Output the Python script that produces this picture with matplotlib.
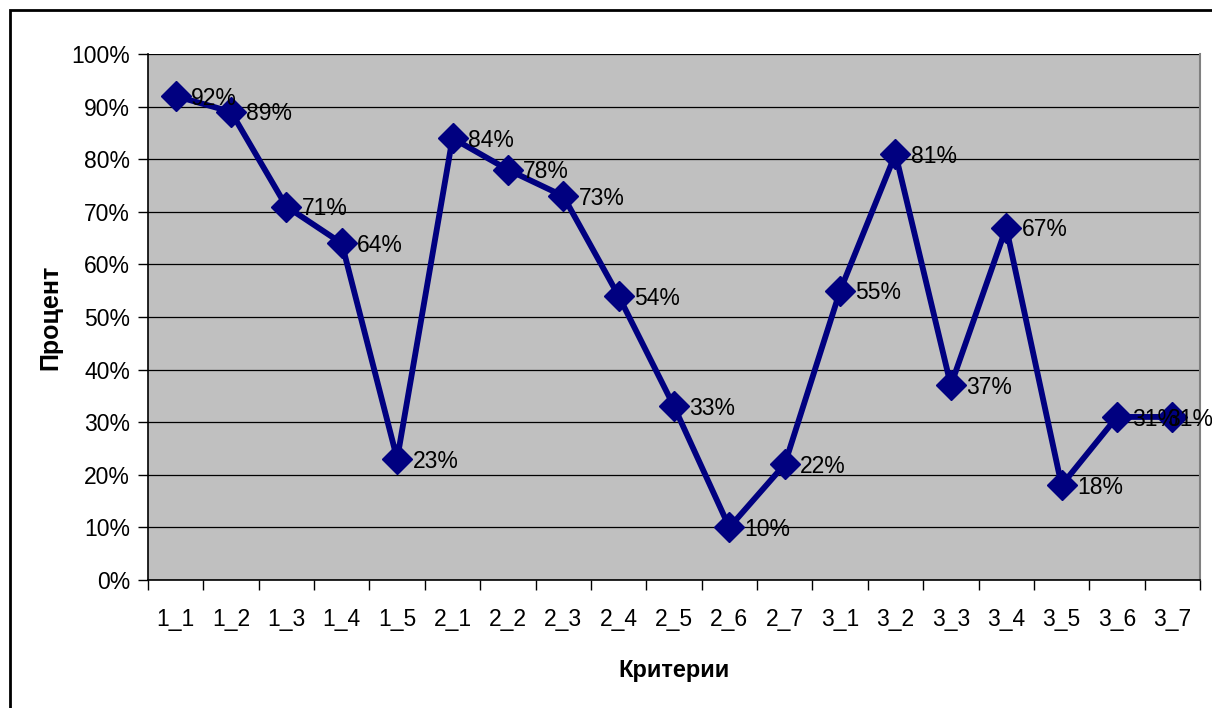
import matplotlib.pyplot as plt
from matplotlib.patches import Rectangle

plt.rcParams['font.family'] = ['Liberation Sans', 'DejaVu Sans']

criteria = ["1_1", "1_2", "1_3", "1_4", "1_5",
            "2_1", "2_2", "2_3", "2_4", "2_5", "2_6", "2_7",
            "3_1", "3_2", "3_3", "3_4", "3_5", "3_6", "3_7"]
percent = [92, 89, 71, 64, 23,
           84, 78, 73, 54, 33, 10, 22,
           55, 81, 37, 67, 18, 31, 31]

fig = plt.figure(figsize=(12.12, 7.08), dpi=100)
ax = fig.add_axes([148 / 1212, 1 - 580 / 708, 1052 / 1212, 526 / 708])
ax.set_facecolor("#c0c0c0")

x = list(range(len(criteria)))
ax.plot(x, percent, color="#000080", lw=4.2, marker="D", ms=15,
        markeredgecolor="#000080", markerfacecolor="#000080", zorder=3)
for xi, v in zip(x, percent):
    # the last label is pulled back so it stays inside the chart frame
    dx = 11 if xi < len(x) - 1 else -4
    ax.annotate(f"{v}%", (xi, v), xytext=(dx, -1.5), textcoords="offset points",
                ha="left", va="center", fontsize=16.5, zorder=4,
                annotation_clip=False)

ax.set_xlim(-0.5, len(criteria) - 0.5)
ax.set_ylim(0, 100)
ax.set_yticks(range(0, 101, 10))
ax.set_yticklabels([f"{t}%" for t in range(0, 101, 10)], fontsize=16.5)
ax.yaxis.grid(True, color="#000000", lw=0.9)
ax.set_axisbelow(True)

# category labels sit between boundary ticks
ax.set_xticks([i - 0.5 for i in range(len(criteria) + 1)])
ax.set_xticklabels([])
ax.set_xticks(x, minor=True)
ax.set_xticklabels(criteria, minor=True, fontsize=16.5)
ax.tick_params(axis="x", which="minor", length=0, pad=20)
ax.tick_params(axis="x", which="major", length=7, width=1)
ax.tick_params(axis="y", length=7, width=1, pad=6)

for side in ("left", "bottom"):
    ax.spines[side].set_color("black")
    ax.spines[side].set_linewidth(1.2)
ax.spines["top"].set_visible(False)
ax.spines["right"].set_color("#808080")
ax.spines["right"].set_linewidth(1.5)

ax.set_xlabel("Критерии", fontsize=17, fontweight="bold", labelpad=20)
ax.set_ylabel("Процент", fontsize=18, fontweight="bold", labelpad=6)

# outer chart frame
fig.patches.append(Rectangle((10 / 1212, -0.01), 1.1, 1 - 10 / 708 + 0.01,
                             transform=fig.transFigure, fill=False,
                             edgecolor="black", lw=2))

fig.savefig("out.png", dpi=100)
